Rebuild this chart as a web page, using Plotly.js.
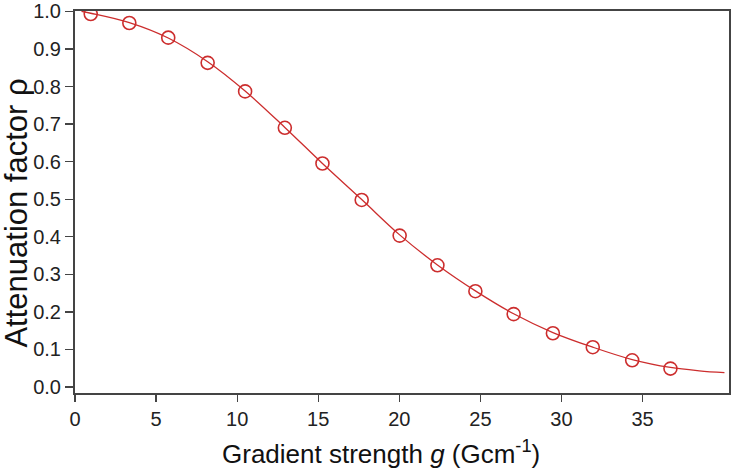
<!DOCTYPE html>
<html>
<head>
<meta charset="utf-8">
<script src="https://cdn.plot.ly/plotly-3.0.1.min.js"></script>
<style>
  html, body { margin: 0; padding: 0; background: #fff; }
  #chart { width: 735px; height: 472px; }
</style>
</head>
<body>
<div id="chart"></div>
<script>
// measured points (gradient strength, attenuation factor)
const gradient = [0.97, 3.35, 5.75, 8.18, 10.49, 12.94, 15.26, 17.68, 20.02, 22.35, 24.69, 27.05, 29.47, 31.93, 34.36, 36.72];
const attenuation = [0.993, 0.969, 0.930, 0.863, 0.787, 0.690, 0.595, 0.498, 0.403, 0.324, 0.255, 0.194, 0.143, 0.106, 0.071, 0.049];

// fitted curve
const fitX = [0.4, 0.97, 3.35, 5.75, 8.18, 10.49, 12.94, 15.26, 17.68, 20.02, 22.35, 24.69, 27.05, 29.47, 31.93, 34.36, 36.72, 38.5, 40.05];
const fitY = [1.0, 0.995, 0.970, 0.929, 0.866, 0.788, 0.691, 0.595, 0.499, 0.405, 0.325, 0.256, 0.195, 0.145, 0.106, 0.073, 0.052, 0.043, 0.038];

const xTicks = [0, 5, 10, 15, 20, 25, 30, 35];
const yTicks = [0, 0.1, 0.2, 0.3, 0.4, 0.5, 0.6, 0.7, 0.8, 0.9, 1.0];

const red = 'rgb(204, 45, 45)';

var fit = {
    x: fitX,
    y: fitY,
    type: 'scatter',
    mode: 'lines',
    line: { color: red, width: 1.3, shape: 'spline' },
    hoverinfo: 'none'
};

var points = {
    x: gradient,
    y: attenuation,
    type: 'scatter',
    mode: 'markers',
    marker: {
        symbol: 'circle-open',
        size: 13,
        color: red,
        line: { color: red, width: 1.6 }
    },
    hoverinfo: 'none'
};

var layout = {
    width: 735,
    height: 472,
    margin: { l: 75, r: 6, t: 11, b: 79 },
    paper_bgcolor: '#fff',
    plot_bgcolor: '#fff',
    showlegend: false,
    font: { family: 'Liberation Sans, Arial, sans-serif', size: 20, color: '#222' },
    xaxis: {
        range: [0, 40.33],
        tickvals: xTicks,
        ticktext: xTicks.map(String),
        ticks: 'outside',
        ticklen: 7,
        tickwidth: 1.3,
        tickcolor: '#444',
        showgrid: false,
        zeroline: false,
        showline: true,
        linecolor: '#444',
        linewidth: 2,
        mirror: true,
        tickfont: { size: 20 }
    },
    yaxis: {
        range: [-0.016, 1.001],
        tickvals: yTicks,
        tickformat: '.1f',
        ticks: 'outside',
        ticklen: 8,
        tickwidth: 1.3,
        tickcolor: '#444',
        showgrid: false,
        zeroline: false,
        showline: true,
        linecolor: '#444',
        linewidth: 2,
        mirror: true,
        ticklabeloverflow: 'allow',
        tickfont: { size: 20 }
    },
    annotations: [
        {
            text: 'Gradient strength <i>g</i> (Gcm<sup>-1</sup>)',
            xref: 'paper', yref: 'paper',
            x: 0.468, y: -0.155,
            xanchor: 'center', yanchor: 'middle',
            showarrow: false,
            font: { size: 26, color: '#111' }
        },
        {
            text: 'Attenuation factor ρ',
            xref: 'paper', yref: 'paper',
            x: -0.09, y: 0.47,
            xanchor: 'center', yanchor: 'middle',
            textangle: -90,
            showarrow: false,
            font: { size: 31, color: '#111' }
        }
    ]
};

Plotly.newPlot('chart', [fit, points], layout, { staticPlot: true });
</script>
</body>
</html>
